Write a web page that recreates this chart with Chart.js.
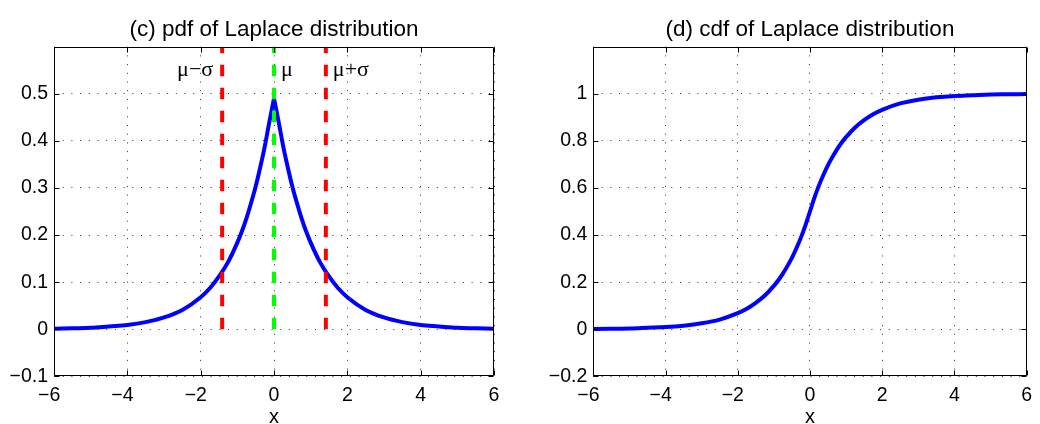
<!DOCTYPE html>
<html>
<head>
<meta charset="utf-8">
<script src="https://cdn.jsdelivr.net/npm/chart.js@4.4.1/dist/chart.umd.min.js"></script>
<style>
  html, body { margin: 0; padding: 0; background: #fff; }
  #wrap { position: relative; width: 1040px; height: 424px; }
  canvas { position: absolute; top: 0; }
  #pdf { left: 0; }
  #cdf { left: 520px; }
</style>
</head>
<body>
<div id="wrap">
  <canvas id="pdf" width="520" height="424"></canvas>
  <canvas id="cdf" width="520" height="424"></canvas>
</div>
<script>
// Muestras (pdf y cdf de Laplace)
const xValues = [-6, -5.5, -5, -4.5, -4, -3.5, -3, -2.5, -2, -1.75, -1.5, -1.25, -1, -0.875, -0.75, -0.625, -0.5, -0.375, -0.25, -0.125,
  0, 0.125, 0.25, 0.375, 0.5, 0.625, 0.75, 0.875, 1, 1.25, 1.5, 1.75, 2, 2.5, 3, 3.5, 4, 4.5, 5, 5.5, 6];
const pdfValues = [0.001, 0.002, 0.003, 0.006, 0.009, 0.015, 0.025, 0.041, 0.068, 0.087, 0.112, 0.143, 0.184, 0.208, 0.236, 0.268, 0.303, 0.344, 0.389, 0.441,
  0.49, 0.441, 0.389, 0.344, 0.303, 0.268, 0.236, 0.208, 0.184, 0.143, 0.112, 0.087, 0.068, 0.041, 0.025, 0.015, 0.009, 0.006, 0.003, 0.002, 0.001];
const cdfValues = [0.001, 0.002, 0.003, 0.006, 0.009, 0.015, 0.025, 0.041, 0.068, 0.087, 0.112, 0.143, 0.184, 0.208, 0.236, 0.268, 0.303, 0.344, 0.389, 0.441,
  0.5, 0.559, 0.611, 0.656, 0.697, 0.732, 0.764, 0.792, 0.816, 0.857, 0.888, 0.913, 0.932, 0.959, 0.975, 0.985, 0.991, 0.994, 0.997, 0.998, 0.999];
const peakIndex = 20; // la pdf tiene un pico en x = 0

// Marcadores verticales mu ± sigma
const sigmaX = [-1.414, 1.414];
const muX = [0];
const markerSpan = [0, 0.6];
const markerLabels = ['\u03bc\u2212\u03c3', '\u03bc', '\u03bc+\u03c3'];
const markerLabelX = [-1.414, 0, 1.414];
const markerLabelY = 0.55;

// Ticks
const xTicks = [-6, -4, -2, 0, 2, 4, 6];
const pdfYTicks = [-0.1, 0, 0.1, 0.2, 0.3, 0.4, 0.5];
const cdfYTicks = [-0.2, 0, 0.2, 0.4, 0.6, 0.8, 1];

(function () {
  'use strict';

  Chart.defaults.font.family = '"Liberation Sans", Arial, Helvetica, sans-serif';
  Chart.defaults.color = '#000';

  const GRID = 'rgba(0,0,0,0.8)';
  const MINUS = '\u2212';

  const fmtY = (v) => (v < 0 ? MINUS : '') + Math.abs(v);
  // MATLAB centra el dígito; el signo menos cuelga a la izquierda
  const fmtX = (v) => (v < 0 ? MINUS + Math.abs(v) + '\u2002' : String(v));

  // Caja completa con ticks hacia adentro (estilo MATLAB)
  const boxTicks = {
    id: 'boxTicks',
    afterDatasetsDraw(chart) {
      const { ctx, chartArea: a, scales: { x, y } } = chart;
      const L = Math.round(a.left) + 0.5, R = Math.round(a.right) - 0.5;
      const T = Math.round(a.top) + 0.5, B = Math.round(a.bottom) - 0.5;
      ctx.save();
      ctx.strokeStyle = '#000';
      ctx.lineWidth = 1;
      ctx.beginPath();
      x.ticks.forEach((t) => {
        const px = Math.round(x.getPixelForValue(t.value)) + 0.5;
        ctx.moveTo(px, B); ctx.lineTo(px, B - 5);
        ctx.moveTo(px, T); ctx.lineTo(px, T + 5);
      });
      y.ticks.forEach((t) => {
        const py = Math.round(y.getPixelForValue(t.value)) + 0.5;
        ctx.moveTo(L, py); ctx.lineTo(L + 5, py);
        ctx.moveTo(R, py); ctx.lineTo(R - 5, py);
      });
      ctx.rect(L, T, R - L, B - T);
      ctx.stroke();
      ctx.restore();
    },
  };

  // Etiquetas mu-sigma junto a las líneas
  const markerText = {
    id: 'markerText',
    afterDatasetsDraw(chart, args, opts) {
      if (!opts.show) return;
      const { ctx, scales: { x, y } } = chart;
      ctx.save();
      ctx.fillStyle = '#000';
      ctx.font = '22px "Liberation Serif", "DejaVu Serif", serif';
      ctx.textBaseline = 'middle';
      const py = y.getPixelForValue(markerLabelY);
      markerLabels.forEach((label, i) => {
        const px = x.getPixelForValue(markerLabelX[i]);
        if (markerLabelX[i] < 0) {
          ctx.textAlign = 'right';
          ctx.fillText(label, px - 9, py);
        } else {
          ctx.textAlign = 'left';
          ctx.fillText(label, px + 7, py);
        }
      });
      ctx.restore();
    },
  };

  // Tramo de curva suave (monótona) entre dos índices de las muestras
  function curve(values, from, to) {
    return {
      data: xValues.slice(from, to + 1).map((x, i) => ({ x, y: values[from + i] })),
      showLine: true,
      cubicInterpolationMode: 'monotone',
      borderColor: '#0000ff',
      borderWidth: 4,
      borderJoinStyle: 'round',
      borderCapStyle: 'round',
      pointRadius: 0,
      order: 2,
    };
  }

  function vline(x, color) {
    return {
      data: markerSpan.map((y) => ({ x, y })),
      showLine: true,
      borderColor: color,
      borderWidth: 4,
      borderDash: [11.5, 11.5],
      borderCapStyle: 'butt',
      pointRadius: 0,
      order: 1,
    };
  }

  function laplaceChart(canvasEl, cfg) {
    return new Chart(canvasEl, {
      type: 'scatter',
      data: { datasets: cfg.datasets },
      options: {
        responsive: false,
        animation: false,
        events: [],
        layout: { padding: { left: 0, right: cfg.padRight, top: 0, bottom: 0 } },
        plugins: {
          legend: { display: false },
          tooltip: { enabled: false },
          title: {
            display: true, text: cfg.title, fullSize: false, color: '#000',
            font: { size: 22.5, weight: 'normal', lineHeight: 1.2 }, padding: { top: 16, bottom: 3.7 },
          },
          markerText: { show: !!cfg.markers },
        },
        scales: {
          x: {
            type: 'linear', min: -6, max: 6,
            afterBuildTicks: (s) => { s.ticks = xTicks.map((v) => ({ value: v })); },
            afterFit: (s) => { s.height = 47.7; },
            grid: { color: GRID, lineWidth: 1, drawTicks: false },
            border: { display: false, dash: [1, 7.7] },
            ticks: { font: { size: 19.5 }, padding: 8, maxRotation: 0, autoSkip: false, callback: fmtX },
            title: { display: true, text: 'x', font: { size: 20, lineHeight: 1 }, padding: { top: 0, bottom: -3 } },
          },
          y: {
            type: 'linear', min: cfg.yMin, max: cfg.yMax,
            afterBuildTicks: (s) => { s.ticks = cfg.yTicks.map((v) => ({ value: v })); },
            afterFit: (s) => { s.width = cfg.yAxisWidth; },
            grid: { color: GRID, lineWidth: 1, drawTicks: false },
            border: { display: false, dash: [1, 7.7] },
            ticks: { font: { size: 19.5 }, padding: 6, autoSkip: false, callback: fmtY },
          },
        },
      },
      plugins: [boxTicks, markerText],
    });
  }

  const last = xValues.length - 1;

  laplaceChart(document.getElementById('pdf'), {
    title: '(c) pdf of Laplace distribution',
    datasets: [
      curve(pdfValues, 0, peakIndex),
      curve(pdfValues, peakIndex, last),
      ...sigmaX.map((x) => vline(x, '#ff0000')),
      ...muX.map((x) => vline(x, '#00ff00')),
    ],
    markers: true,
    yMin: -0.1, yMax: 0.6, yTicks: pdfYTicks,
    yAxisWidth: 54, padRight: 26,
  });

  laplaceChart(document.getElementById('cdf'), {
    title: '(d) cdf of Laplace distribution',
    datasets: [curve(cdfValues, 0, last)],
    markers: false,
    yMin: -0.2, yMax: 1.2, yTicks: cdfYTicks,
    yAxisWidth: 73.3, padRight: 6.7,
  });
})();
</script>
</body>
</html>
